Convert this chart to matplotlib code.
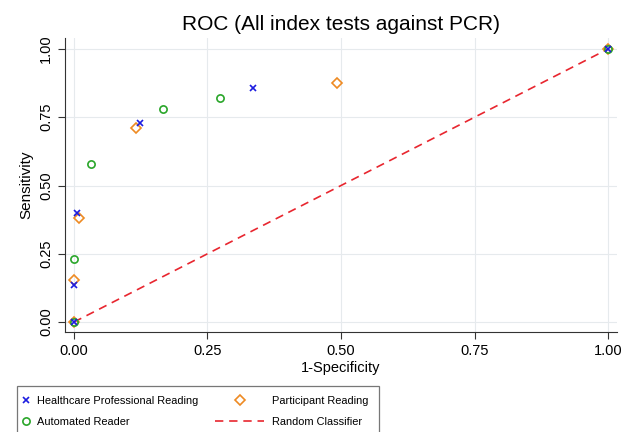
import matplotlib
matplotlib.use("Agg")
import numpy as np
import matplotlib.pyplot as plt
from matplotlib.legend_handler import HandlerLine2D

plt.rcParams['font.family'] = ['Liberation Sans', 'DejaVu Sans']

# Data (1-specificity, sensitivity)
hcp_x = [0.0, 0.0, 0.006, 0.123, 0.335, 1.0]
hcp_y = [0.0, 0.135, 0.40, 0.728, 0.856, 1.0]

part_x = [0.0, 0.0, 0.009, 0.116, 0.493, 1.0]
part_y = [0.0, 0.154, 0.382, 0.712, 0.874, 1.0]

auto_x = [0.0, 0.0, 0.033, 0.167, 0.273, 1.0]
auto_y = [0.0, 0.230, 0.578, 0.780, 0.822, 1.0]

diag = [0.0, 1.0]
ticks = [0.0, 0.25, 0.5, 0.75, 1.0]
tick_labels = ["0.00", "0.25", "0.50", "0.75", "1.00"]


class ShiftedHandler(HandlerLine2D):
    # legend key drawn between left/right (in fontsize units) of the handle box
    def __init__(self, left, right, **kw):
        super().__init__(**kw)
        self.left = left
        self.right = right

    def get_xdata(self, legend, xdescent, ydescent, width, height, fontsize):
        x = np.array([self.left * fontsize - xdescent, self.right * fontsize - xdescent])
        return x, np.array([x.mean()])


fig = plt.figure(figsize=(6.35, 4.32), dpi=100)
ax = fig.add_axes([0.102, 0.231, 0.870, 0.681])

ax.grid(True, color="#e6eaed", linewidth=0.8)
ax.set_axisbelow(True)

l_rand, = ax.plot(diag, diag, color="#e8262f", linestyle=(0, (5, 3.5)), linewidth=1.2,
                  label="Random Classifier")
l_part, = ax.plot(part_x, part_y, linestyle="none", marker="D", markersize=5.2,
                  markerfacecolor="none", markeredgecolor="#ee8a22", markeredgewidth=1.2,
                  label="Participant Reading")
l_auto, = ax.plot(auto_x, auto_y, linestyle="none", marker="o", markersize=5.2,
                  markerfacecolor="none", markeredgecolor="#2aa62a", markeredgewidth=1.2,
                  label="Automated Reader")
l_hcp, = ax.plot(hcp_x, hcp_y, linestyle="none", marker="x", markersize=5,
                 color="#1c1ce0", markeredgewidth=1.2,
                 label="Healthcare Professional Reading")

ax.set_xlim(-0.017, 1.017)
ax.set_ylim(-0.037, 1.04)
ax.set_xticks(ticks)
ax.set_xticklabels(tick_labels)
ax.set_yticks(ticks)
ax.set_yticklabels(tick_labels, rotation=90, va="center")
ax.tick_params(labelsize=10.5, color="#333333", length=5)
for s in ["top", "right"]:
    ax.spines[s].set_visible(False)
for s in ["left", "bottom"]:
    ax.spines[s].set_color("#333333")

ax.set_xlabel("1-Specificity", fontsize=10.5, labelpad=2)
ax.set_ylabel("Sensitivity", fontsize=11, labelpad=4)
ax.set_title("ROC (All index tests against PCR)", fontsize=15, pad=6)

col1 = ShiftedHandler(-0.11, -0.11)
col2 = ShiftedHandler(-4.30, 0.16)
leg = fig.legend(handles=[l_hcp, l_auto, l_part, l_rand], ncol=2,
                 loc="upper left", bbox_to_anchor=(17 / 635, 1 - 385.5 / 432),
                 borderaxespad=0, fontsize=7.9,
                 frameon=True, fancybox=False, edgecolor="#555555",
                 handlelength=0.2, handletextpad=0.69, columnspacing=5.85,
                 labelspacing=1.0, borderpad=0.95,
                 handler_map={l_hcp: col1, l_auto: col1, l_part: col2, l_rand: col2})
leg.get_frame().set_linewidth(0.9)

fig.savefig("out.png", dpi=100)
